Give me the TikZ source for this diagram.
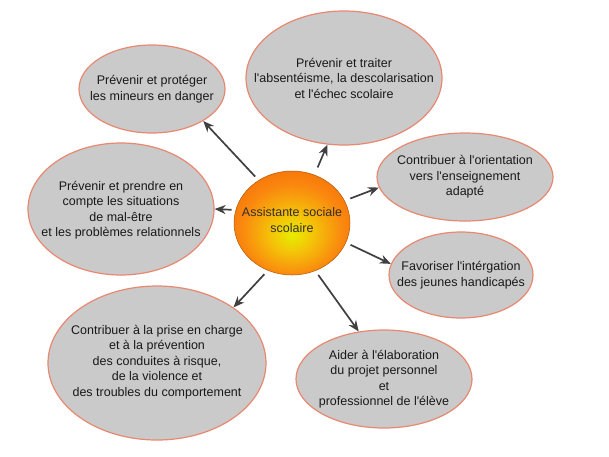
\documentclass[tikz,border=0pt]{standalone}
\usepackage{fontspec}
\setmainfont{Liberation Sans}
\usetikzlibrary{shapes.geometric,arrows.meta}
\newcommand{\aq}{\textquotesingle}
\definecolor{ellfill}{RGB}{202,202,202}
\definecolor{elldraw}{RGB}{232,136,112}
\definecolor{arrcol}{RGB}{64,64,64}
\pgfdeclareradialshading{ballsh}{\pgfpoint{0bp}{-6bp}}{%
  color(0bp)=(rgb,255:red,230;green,236;blue,0);
  color(9bp)=(rgb,255:red,244;green,196;blue,8);
  color(22bp)=(rgb,255:red,250;green,135;blue,15);
  color(38bp)=(rgb,255:red,244;green,96;blue,6);
  color(50bp)=(rgb,255:red,238;green,82;blue,0)}
\tikzset{
  ell/.style={ellipse, fill=ellfill, draw=elldraw, line width=1.2pt, inner sep=0pt},
  txt/.style={align=center, font=\fontsize{12.5}{15.5}\selectfont, text=black!90},
  arr/.style={draw=arrcol, line width=1.7pt, -{Stealth[length=11pt,width=9pt]}, shorten <=5pt},
}
\begin{document}
\begin{tikzpicture}[x=1pt,y=-1pt]
\useasboundingbox (0,0) rectangle (609,456);
\fill[white] (0,0) rectangle (609,456);
% ellipses
\node[ell, minimum width=146pt, minimum height=88pt] (e1) at (152,89) {};
\node[ell, minimum width=196pt, minimum height=134pt] (e2) at (344,78) {};
\node[ell, minimum width=176pt, minimum height=88pt] (e3) at (465,177) {};
\node[ell, minimum width=186pt, minimum height=132pt] (e4) at (121,209) {};
\node[ell, minimum width=144pt, minimum height=86pt] (e5) at (461,275) {};
\node[ell, minimum width=218pt, minimum height=154pt] (e6) at (157,363) {};
\node[ell, minimum width=176pt, minimum height=98pt] (e7) at (384,379) {};
% center
\node[ellipse, minimum width=116pt, minimum height=104pt, inner sep=0pt,
      shading=ballsh, draw=black!30!orange, line width=0.5pt] (c) at (292,223) {};
% texts
\node[txt] (t1) at (152,89) {Prévenir et protéger\\les mineurs en danger};
\node[txt] (t2) at (344,78) {Prévenir et traiter\\l\aq absentéisme, la descolarisation\\et l\aq échec scolaire};
\node[txt] (t3) at (465,177) {Contribuer à l\aq orientation\\vers l\aq enseignement\\adapté};
\node[txt] (t4) at (121,210) {Prévenir et prendre en\\compte les situations\\de mal-être\\et les problèmes relationnels};
\node[txt] (t5) at (461,275) {Favoriser l\aq intérgation\\des jeunes handicapés};
\node[txt] (t6) at (157,362) {Contribuer à la prise en charge\\et à la prévention\\des conduites à risque,\\de la violence et\\des troubles du comportement};
\node[txt] (t7) at (384,379) {Aider à l\aq élaboration\\du projet personnel\\et\\professionnel de l\aq élève};
\node[txt, text=black!85!olive] (tc) at (292,220) {Assistante sociale\\scolaire};
% arrows
\draw[arr] (c.128) -- (e1.328);
\draw[arr, shorten <=8pt] (c.65) -- (e2.256);
\draw[arr, shorten <=6pt] (c.23) -- (e3.187);
\draw[arr, shorten <=4pt] (c.167) -- (e4.0);
\draw[arr] (c.-20) -- (e5.171);
\draw[arr] (c.243) -- (e6.36);
\draw[arr] (c.296) -- (e7.118);
\end{tikzpicture}
\end{document}
